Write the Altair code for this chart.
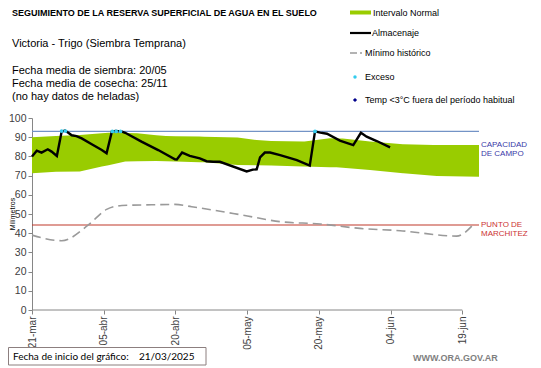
import altair as alt
import pandas as pd
import numpy as np

# ---------------- data ----------------
tick_days = [0, 15, 30, 45, 60, 75, 90]
tick_labels = ["21-mar", "05-abr", "20-abr", "05-may", "20-may", "04-jun", "19-jun"]
y_ticks = [0, 10, 20, 30, 40, 50, 60, 70, 80, 90, 100]

band_upper_days = [0, 5, 10, 16, 22, 28, 35, 43, 47, 50, 56.7, 62.3, 65, 70.7, 77.6, 84, 93.5]
band_upper = [90, 90.6, 91.1, 92.3, 92, 90.6, 90.3, 89.8, 88.5, 88, 87.7, 89.4, 89.3, 87.7, 86.3, 86, 86]
band_lower_days = [0, 5, 10, 14.6, 19.5, 26, 30, 36, 43, 50, 57, 63.7, 70.7, 77.7, 84.7, 93.5]
band_lower = [71.2, 72, 72.2, 74.7, 77.3, 77.6, 77.3, 76.9, 75.5, 75.3, 74.7, 74.3, 72.9, 71.2, 69.8, 69.4]

alm_days = [0, 1, 2, 3.3, 4.1, 5.2, 6.2, 6.9, 7.6, 8.3, 9.3, 10.4, 12.5, 14.6, 15.6, 16.7, 17.5, 18.7,
            19.5, 22.9, 26.4, 29.9, 30.3, 31.4, 33, 35.1, 36.5, 37.9, 39.3, 44.9, 46.2, 47, 47.7, 48.7,
            49.8, 51.9, 55.4, 58.1, 59.2, 60.3, 61.7, 64.4, 67.2, 68.8, 70, 72.1, 74.9]
alm_values = [80, 83, 82, 83.7, 82.5, 80.2, 92.9, 93.4, 92.3, 91, 90.6, 89.4, 86.3, 83.3, 81.6, 92.9, 93.2, 93,
              92.3, 87.7, 83.3, 78.5, 78.4, 82, 80.3, 79, 77.5, 77.2, 77.2, 72.2, 73.1, 73.3, 79.5, 82,
              82, 80.7, 78.1, 75.2, 93, 92.4, 91.8, 88.2, 85.9, 92.3, 90.3, 88, 84.7]

min_days = [0, 6.2, 11.8, 15.6, 18.8, 25, 29.9, 33.4, 43.9, 51.9, 60.3, 68.6, 77, 88.8, 92.5]
min_values = [39, 36.1, 44.3, 52.4, 54.4, 54.8, 55, 53.8, 49.5, 46, 44.8, 42.5, 41.3, 38.5, 45]

exc_days = [6.2, 7.0, 16.8, 17.6, 18.5, 59.2]
exc_values = [93.2, 93.2, 93, 93, 93, 93]

capacidad = 93
marchitez = 44.3

W, H = 447, 192
FONT = "Liberation Sans"

xscale = alt.Scale(domain=[0, 93.5], nice=False, zero=False)
yscale = alt.Scale(domain=[0, 100], nice=False)

label_expr = "[" + ",".join("'%s'" % l for l in tick_labels) + "][round(datum.value/15)]"

xaxis = alt.Axis(values=tick_days, labelExpr=label_expr, labelAngle=-90, labelFontSize=10,
                 labelColor="#404040", labelFont=FONT, tickColor="#868686", tickSize=4,
                 domain=False, grid=False, title=None, labelPadding=2, labelOverlap=False)
yaxis = alt.Axis(values=y_ticks, labelFontSize=10.5, labelColor="#404040",
                 labelFont=FONT, tickColor="#868686", domainColor="#868686", tickSize=4,
                 grid=False, title=None, labelPadding=2, labelOverlap=False)


def X(f):
    return alt.X(f, scale=xscale, axis=xaxis)


def Y(f):
    return alt.Y(f, scale=yscale, axis=yaxis)


alld = sorted(set(band_upper_days) | set(band_lower_days))
band = pd.DataFrame({
    "d": alld,
    "u": np.interp(alld, band_upper_days, band_upper),
    "l": np.interp(alld, band_lower_days, band_lower),
})
band_ch = alt.Chart(band).mark_area(color="#99cc00", opacity=1).encode(
    x=X("d:Q"), y=Y("u:Q"), y2="l:Q")

cap_ch = alt.Chart(pd.DataFrame({"v": [capacidad]})).mark_rule(color="#7393c6", strokeWidth=1.2).encode(
    y=Y("v:Q"))
mar_ch = alt.Chart(pd.DataFrame({"v": [marchitez]})).mark_rule(color="#c0392b", strokeWidth=1.1).encode(
    y=Y("v:Q"))

xaxis_line = alt.Chart(pd.DataFrame({"a": [0], "b": [90], "v": [0]})).mark_rule(
    color="#868686", strokeWidth=1).encode(x=X("a:Q"), x2="b:Q", y=Y("v:Q"))

min_ch = alt.Chart(pd.DataFrame({"d": min_days, "v": min_values})).mark_line(
    color="#9a9a9a", strokeWidth=1.6, strokeDash=[9, 5], interpolate="monotone").encode(
    x=X("d:Q"), y=Y("v:Q"))

alm_ch = alt.Chart(pd.DataFrame({"d": alm_days, "v": alm_values})).mark_line(
    color="#000000", strokeWidth=2.4).encode(x=X("d:Q"), y=Y("v:Q"))

exc_ch = alt.Chart(pd.DataFrame({"d": exc_days, "v": exc_values})).mark_point(
    shape="circle", filled=True, color="#33ccee", size=14, opacity=1).encode(
    x=X("d:Q"), y=Y("v:Q"))


def txt(s, x, y, size=11, color="#000000", bold=False, font=FONT, align="left", angle=0):
    return alt.Chart(pd.DataFrame({"t": [s]})).mark_text(
        align=align, baseline="middle", fontSize=size, color=color,
        fontWeight="bold" if bold else "normal", font=font, angle=angle).encode(
        text="t:N", x=alt.value(x), y=alt.value(y))


texts = [
    txt("SEGUIMIENTO DE LA RESERVA  SUPERFICIAL DE AGUA EN EL SUELO", -20, -105, size=9, bold=True),
    txt("Victoria - Trigo (Siembra Temprana)", -20, -74, size=11),
    txt("Fecha media de siembra: 20/05", -20, -47, size=11),
    txt("Fecha media de cosecha: 25/11", -20, -34, size=11),
    txt("(no hay  datos de heladas)", -20, -21, size=11),
    txt("Intervalo Normal", 341, -105.5, size=9),
    txt("Almacenaje", 340, -85, size=9),
    txt("Mínimo histórico", 333, -65, size=9),
    txt("Exceso", 333, -41, size=9),
    txt("Temp <3°C fuera del período habitual", 333, -18, size=9),
    txt("CAPACIDAD", 449, 27, size=8, color="#3a3aa8"),
    txt("DE  CAMPO", 449, 36, size=8, color="#3a3aa8"),
    txt("PUNTO  DE", 449, 107, size=8, color="#cc3333"),
    txt("MARCHITEZ", 449, 116, size=8, color="#cc3333"),
    txt("Milímetros", -19.5, 96, size=7, align="center", angle=270),
    txt("WWW.ORA.GOV.AR", 381, 240, size=9, bold=True, color="#7f7f7f"),
]

leg_rect = alt.Chart(pd.DataFrame({"a": [0]})).mark_rect(color="#99cc00").encode(
    x=alt.value(318), x2=alt.value(339), y=alt.value(-107.5), y2=alt.value(-103.5))
leg_line = alt.Chart(pd.DataFrame({"a": [0]})).mark_rule(color="#000000", strokeWidth=2.2).encode(
    x=alt.value(318), x2=alt.value(339), y=alt.value(-85))
leg_dash = alt.Chart(pd.DataFrame({"a": [0]})).mark_rule(color="#9a9a9a", strokeWidth=1.4,
                                                        strokeDash=[7, 3]).encode(
    x=alt.value(318), x2=alt.value(330), y=alt.value(-65))
leg_dot = alt.Chart(pd.DataFrame({"a": [0]})).mark_point(shape="circle", filled=True, color="#33ccee",
                                                        size=12, opacity=1).encode(
    x=alt.value(323), y=alt.value(-41))
leg_diam = alt.Chart(pd.DataFrame({"a": [0]})).mark_point(shape="diamond", filled=True, color="#00008b",
                                                         size=18, opacity=1).encode(
    x=alt.value(323), y=alt.value(-18))

box = alt.Chart(pd.DataFrame({"a": [0]})).mark_rect(fill="#ffffff", stroke="#8c7f7f", strokeWidth=1).encode(
    x=alt.value(-23.5), x2=alt.value(174), y=alt.value(229.5), y2=alt.value(247))
box_t1 = txt("Fecha de inicio del gráfico:", -19, 239, size=10, font="Lato")
box_t2 = txt("21/03/2025", 107, 239, size=10, font="Lato")

chart = alt.layer(
    band_ch, cap_ch, mar_ch, xaxis_line, min_ch, alm_ch, exc_ch,
    leg_rect, leg_line, leg_dash, leg_dot, leg_diam, box, box_t1, box_t2, *texts
).properties(
    width=W, height=H, autosize="none",
    padding={"left": 24, "top": 110, "right": 50, "bottom": 56},
    background="#ffffff",
).configure_view(stroke=None)

chart.save("out.html", embed_options={"renderer": "svg", "actions": False})
